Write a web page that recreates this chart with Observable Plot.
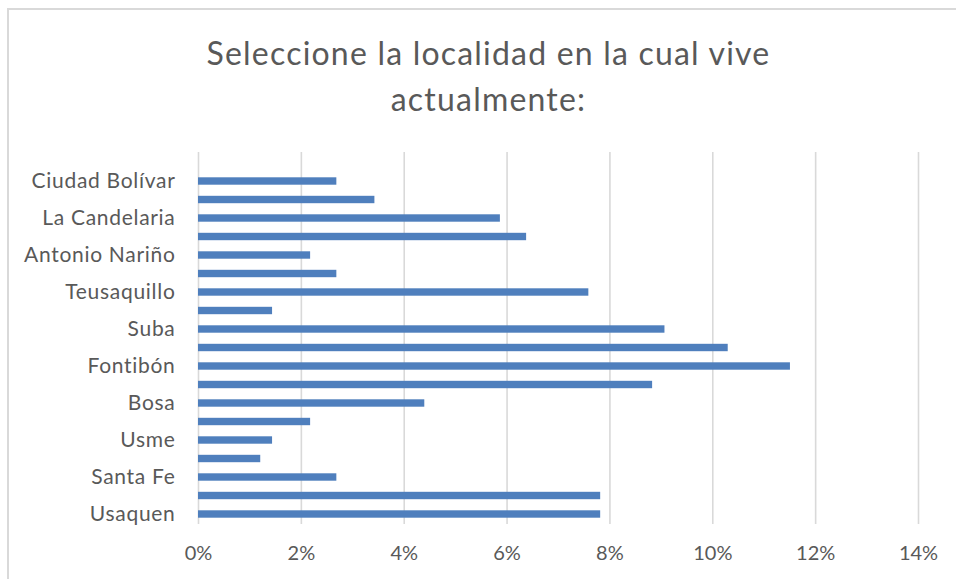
<!DOCTYPE html>
<html>
<head>
<meta charset="utf-8">
<script src="https://cdn.jsdelivr.net/npm/d3@7"></script>
<script src="https://cdn.jsdelivr.net/npm/@observablehq/plot@0.6"></script>
<style>
  html, body { margin: 0; padding: 0; background: #fff; }
  body { width: 956px; height: 579px; overflow: hidden; position: relative; font-family: Lato, "Open Sans", sans-serif; }
  #frame { position: absolute; left: 7px; top: 8px; width: 1000px; height: 700px; border-left: 2px solid #d9d9d9; border-top: 2px solid #d9d9d9; }
  #title { position: absolute; left: 0; width: 977px; top: 30px; text-align: center; color: #595959; font-size: 32px; line-height: 46px; font-family: Lato, sans-serif; letter-spacing: 1.2px; }
  #chart { position: absolute; left: 0; top: 140px; }
  #chart svg g[aria-label="y-axis tick label"] text { letter-spacing: 0.7px; }
</style>
</head>
<body>
<div id="frame"></div>
<div id="title">Seleccione la localidad en la cual vive<br>actualmente:</div>
<div id="chart"></div>
<script>
// Localities, bottom to top as drawn
const localidades = [
  "Usaquen", "Chapinero", "Santa Fe", "San Cristóbal", "Usme", "Tunjuelito",
  "Bosa", "Kennedy", "Fontibón", "Engativá", "Suba", "Barrios Unidos",
  "Teusaquillo", "Los Mártires", "Antonio Nariño", "Puente Aranda",
  "La Candelaria", "Rafael Uribe Uribe", "Ciudad Bolívar"
];
// Percent of respondents
const porcentajes = [
  7.82, 7.82, 2.69, 1.21, 1.44, 2.18,
  4.40, 8.83, 11.51, 10.30, 9.07, 1.44,
  7.59, 2.69, 2.18, 6.38,
  5.87, 3.43, 2.69
];
// Category labels that the axis shows
const etiquetasVisibles = [
  "Usaquen", "Santa Fe", "Usme", "Bosa", "Fontibón", "Suba",
  "Teusaquillo", "Antonio Nariño", "La Candelaria", "Ciudad Bolívar"
];
const xTicks = [0, 2, 4, 6, 8, 10, 12, 14];

const data = localidades.map((l, i) => ({localidad: l, valor: porcentajes[i]}));

const chart = Plot.plot({
  width: 956,
  height: 439,
  marginLeft: 198,
  marginRight: 38,
  marginTop: 12,
  marginBottom: 55,
  style: { fontFamily: "Lato, sans-serif", fontSize: "20px", color: "#595959", background: "transparent" },
  x: { domain: [0, 14], ticks: xTicks, tickFormat: d => d + "%", label: null },
  y: { domain: localidades.slice().reverse(), range: [31.75, 383.25], paddingInner: 0.6, paddingOuter: 0.3, round: false, label: null },
  marks: [
    Plot.ruleX(xTicks, { stroke: "#d9d9d9", strokeWidth: 1.6 }),
    Plot.barX(data, { x: "valor", y: "localidad", fill: "#4f7fbd" }),
    Plot.axisX({ ticks: xTicks, tickFormat: d => d + "%", tickSize: 0, tickPadding: 21, fill: "#595959", label: null, fontSize: 20 }),
    Plot.axisY({ ticks: etiquetasVisibles, tickSize: 0, tickPadding: 23, fill: "#595959", label: null, fontSize: 21 })
  ]
});
document.getElementById("chart").appendChild(chart);
</script>
</body>
</html>
